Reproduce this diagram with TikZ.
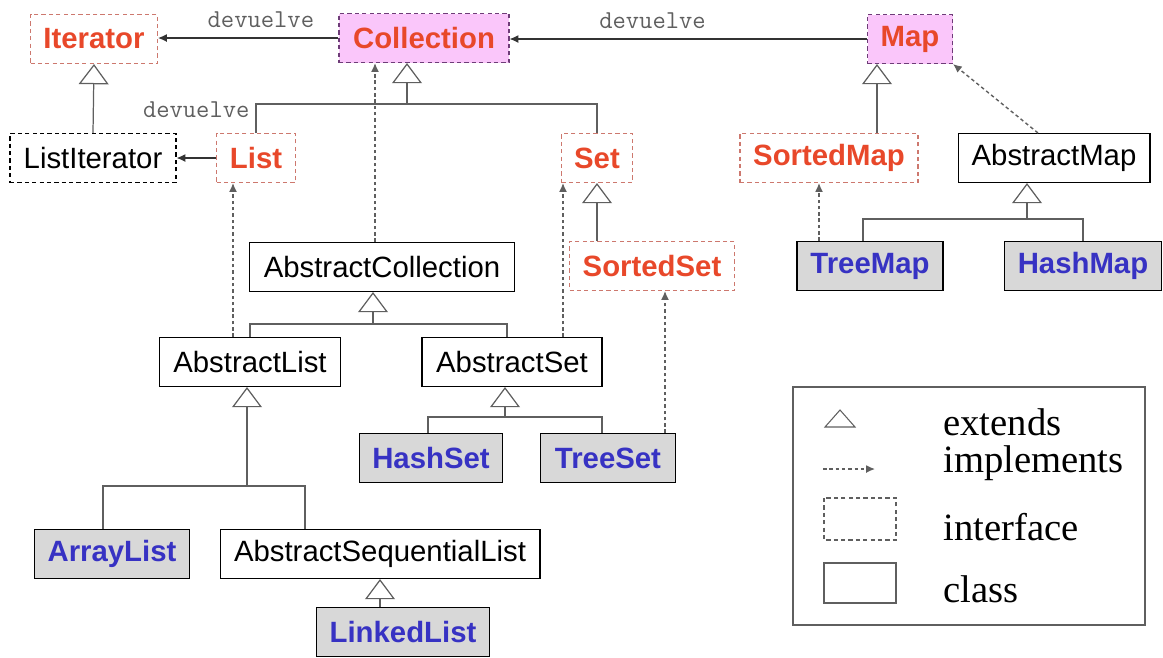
\documentclass[tikz,border=0pt]{standalone}
\usepackage{fontspec}
\setmainfont{Liberation Sans}
\newfontfamily\policeleg{Liberation Serif}
\usetikzlibrary{arrows.meta,calc}

\definecolor{rouge}{RGB}{232,72,42}
\definecolor{bordrouge}{RGB}{205,120,110}
\definecolor{rose}{RGB}{250,198,250}
\definecolor{bordviolet}{RGB}{110,60,120}
\definecolor{bleu}{RGB}{55,50,195}
\definecolor{grisfond}{RGB}{216,216,216}
\definecolor{gristrait}{RGB}{95,95,95}
\definecolor{gristexte}{RGB}{95,95,95}

\newcommand{\pboite}{\fontsize{16.7}{20}\selectfont}

\begin{document}
\begin{tikzpicture}[x=0.02cm,y=-0.02cm]

% définition des styles
\tikzstyle{boite}=[rectangle,minimum height=0.98cm,inner sep=0pt,line width=0.6pt,font=\pboite]
\tikzstyle{interface}=[boite,draw=bordrouge,dash pattern=on 2.4pt off 1.8pt,text=rouge,font=\pboite\bfseries]
\tikzstyle{racine}=[interface,draw=bordviolet,fill=rose]
\tikzstyle{classe}=[boite,draw=black]
\tikzstyle{concrete}=[classe,fill=grisfond,text=bleu,font=\pboite\bfseries]
\tikzstyle{lien}=[gristrait,line width=0.7pt]
\tikzstyle{herite}=[lien,-{Triangle[open,length=11.5pt,width=17pt]}]
\tikzstyle{implemente}=[gristrait,line width=0.8pt,dash pattern=on 2pt off 1.6pt,-{Latex[length=5pt,width=4.5pt]}]
\tikzstyle{retour}=[black!80,line width=0.7pt,-{Latex[length=5pt,width=4.5pt]}]
\tikzstyle{etiquette}=[text=gristexte,font=\ttfamily\fontsize{14.7}{17}\selectfont,inner sep=0pt]
\tikzstyle{texteleg}=[anchor=base west,inner sep=0pt,font=\policeleg\fontsize{22}{26}\selectfont]

\useasboundingbox (0,0) rectangle (1163,657);

% les interfaces
\node[interface,minimum width=2.54cm] (iterator) at (94,39) {Iterator};
\node[racine,minimum width=3.4cm] (collection) at (424,38) {Collection};
\node[racine,minimum width=1.7cm] (map) at (910,39) {Map};
\node[boite,draw=black,dash pattern=on 2.4pt off 1.8pt,minimum width=3.32cm] (listiterator) at (93,158) {ListIterator};
\node[interface,minimum width=1.58cm] (list) at (256,158) {List};
\node[interface,minimum width=1.42cm] (set) at (597,158) {Set};
\node[interface,minimum width=3.3cm] (sortedset) at (652,266) {SortedSet};
\node[interface,minimum width=3.56cm] (sortedmap) at (829,158) {SortedMap};

% les classes abstraites
\node[classe,minimum width=5.3cm] (abscoll) at (382,267) {AbstractCollection};
\node[classe,minimum width=3.62cm] (abslist) at (250,362) {AbstractList};
\node[classe,minimum width=3.6cm] (absset) at (512,362) {AbstractSet};
\node[classe,minimum width=6.4cm] (absseq) at (380,554) {AbstractSequentialList};
\node[classe,minimum width=3.84cm] (absmap) at (1054,158) {AbstractMap};

% les classes concrètes
\node[concrete,minimum width=2.86cm] (hashset) at (431,458) {HashSet};
\node[concrete,minimum width=2.7cm] (treeset) at (608,458) {TreeSet};
\node[concrete,minimum width=3.1cm] (arraylist) at (112,554) {ArrayList};
\node[concrete,minimum width=3.46cm] (linkedlist) at (403,632) {LinkedList};
\node[concrete,minimum width=2.92cm] (treemap) at (870,266) {TreeMap};
\node[concrete,minimum width=3.14cm] (hashmap) at (1083,266) {HashMap};

% les héritages
\draw[herite] (listiterator.north) -- (iterator.south);

\coordinate (fcoll) at (407,104);
\draw[lien] (list.north) |- (fcoll) -| (set.north);
\draw[herite] (fcoll) -- (fcoll |- collection.south);

\draw[herite] (set.south |- sortedset.north) -- (set.south);

\coordinate (fabs) at (373,324);
\draw[lien] (abslist.north) |- (fabs) -| ($(absset.north)+(-5,0)$);
\draw[herite] (fabs) -- (fabs |- abscoll.south);

\coordinate (fliste) at (247,486);
\draw[lien] ($(arraylist.north)+(-9,0)$) |- (fliste) -| ($(absseq.north)+(-75,0)$);
\draw[herite] (fliste) -- (fliste |- abslist.south);

\coordinate (fens) at (505,417);
\draw[lien] ($(hashset.north)+(-3,0)$) |- (fens) -| ($(treeset.north)+(-6,0)$);
\draw[herite] (fens) -- (fens |- absset.south);

\draw[herite] (linkedlist.north -| absseq.south) -- (absseq.south);

\coordinate (fmap) at (877,133);
\draw[herite] (fmap |- sortedmap.north) -- (fmap |- map.south);

\coordinate (fabsmap) at (1027,219);
\draw[lien] ($(treemap.north)+(-7,0)$) |- (fabsmap) -| (hashmap.north);
\draw[herite] (fabsmap) -- (fabsmap |- absmap.south);

% les implémentations
\coordinate (icoll) at ($(abscoll.north)+(-7,0)$);
\draw[implemente] (icoll) -- (icoll |- collection.south);
\coordinate (ilist) at ($(abslist.north)+(-17,0)$);
\draw[implemente] (ilist) -- (ilist |- list.south);
\coordinate (iset) at ($(absset.north)+(51,0)$);
\draw[implemente] (iset) -- (iset |- set.south);
\coordinate (isorted) at ($(treeset.north)+(57,0)$);
\draw[implemente] (isorted) -- (isorted |- sortedset.south);
\coordinate (imap) at ($(absmap.north)+(-16,0)$);
\draw[implemente] (imap) -- (map.south east);
\coordinate (isortmap) at ($(treemap.north)+(-51,0)$);
\draw[implemente] (isortmap) -- (isortmap |- sortedmap.south);

% les retours
\draw[retour] (collection.west) -- node[etiquette,pos=0.43,yshift=0.36cm]{devuelve} (collection.west -| iterator.east);
\draw[retour] (map.west) -- node[etiquette,pos=0.6,yshift=0.36cm]{devuelve} (map.west -| collection.east);
\draw[retour] (list.west) -- node[etiquette,midway,yshift=0.96cm]{devuelve} (listiterator.east);

% la légende
\node[draw=gristrait,line width=0.7pt,minimum width=7.04cm,minimum height=4.76cm,inner sep=0pt] (legende) at (969,506) {};
\draw[gristrait,line width=0.6pt] (825,427) -- (855,427) -- (840,410) -- cycle;
\draw[implemente] (823,469) -- (875,469);
\draw[gristrait,line width=0.6pt,dash pattern=on 2.4pt off 1.8pt] (824,498) rectangle (896,540);
\draw[gristrait,line width=0.7pt] (824,563) rectangle (896,603);
\node[texteleg] (extends) at (943,435) {extends};
\node[texteleg] (implements) at (943,472) {implements};
\node[texteleg] (leginterface) at (943,540) {interface};
\node[texteleg] (class) at (943,602) {class};

\end{tikzpicture}
\end{document}
